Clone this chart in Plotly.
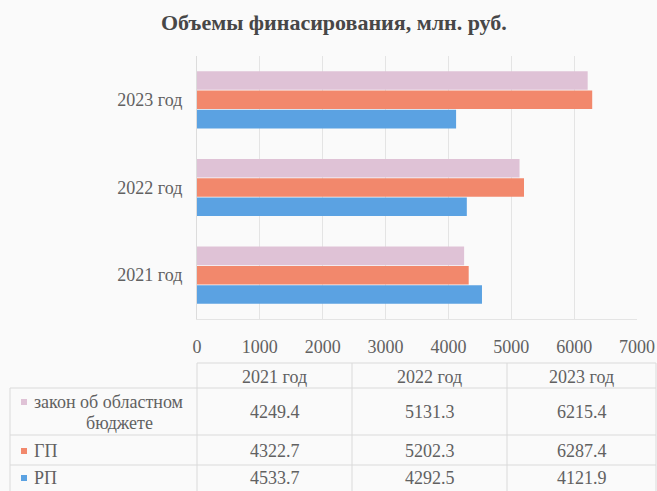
import plotly.graph_objects as go

W, H = 657, 491

categories = ["2021 год", "2022 год", "2023 год"]
series_names = ["закон об областном бюджете", "ГП", "РП"]
zakon = [4249.4, 5131.3, 6215.4]
gp = [4322.7, 5202.3, 6287.4]
rp = [4533.7, 4292.5, 4121.9]
x_ticks = [0, 1000, 2000, 3000, 4000, 5000, 6000, 7000]

colors = {"закон": "#dfc2d6", "ГП": "#f2886c", "РП": "#5ba2e2"}
FONT = "Liberation Serif, Times New Roman, serif"
TXT = "#616161"
FS = 18

def px(x):
    return x / W

def py(y):
    return 1 - y / H

fig = go.Figure()
# first trace drawn at bottom of each group
fig.add_trace(go.Bar(y=categories, x=rp, orientation="h", name="РП",
                     marker=dict(color=colors["РП"], line=dict(width=0))))
fig.add_trace(go.Bar(y=categories, x=gp, orientation="h", name="ГП",
                     marker=dict(color=colors["ГП"], line=dict(width=0))))
fig.add_trace(go.Bar(y=categories, x=zakon, orientation="h", name="закон",
                     marker=dict(color=colors["закон"], line=dict(width=0))))

shapes = []
annotations = []
line_col = "#dadada"

# table grid
def hline(y, x0, x1):
    shapes.append(dict(type="line", xref="paper", yref="paper", x0=px(x0), x1=px(x1),
                       y0=py(y), y1=py(y), line=dict(color=line_col, width=1)))

def vline(x, y0, y1):
    shapes.append(dict(type="line", xref="paper", yref="paper", x0=px(x), x1=px(x),
                       y0=py(y0), y1=py(y1), line=dict(color=line_col, width=1)))

col_edges = [197, 352, 507, 656]
hline(363, 197, 656)
for y in [388, 435, 465]:
    hline(y, 10, 656)
vline(10, 388, 491)
for x in col_edges:
    vline(x, 363, 491)

def text(x, y, s, size=FS, color=TXT, xanchor="center", bold=False):
    if bold:
        s = "<b>" + s + "</b>"
    annotations.append(dict(x=px(x), y=py(y), xref="paper", yref="paper", text=s,
                            showarrow=False, xanchor=xanchor, yanchor="middle",
                            font=dict(family=FONT, size=size, color=color)))

# header
for i, c in enumerate(categories):
    text((col_edges[i] + col_edges[i + 1]) / 2, 377, c)

row_centers = [412, 451, 478]
rows = [zakon, gp, rp]
for r, vals in enumerate(rows):
    for i, v in enumerate(vals):
        text((col_edges[i] + col_edges[i + 1]) / 2, row_centers[r], f"{v:.1f}")

# row labels with legend keys
key_cols = [colors["закон"], colors["ГП"], colors["РП"]]
key_y = [402, 451, 478]
for k, (c, y) in enumerate(zip(key_cols, key_y)):
    shapes.append(dict(type="rect", xref="paper", yref="paper",
                       x0=px(21), x1=px(27), y0=py(y + 3), y1=py(y - 3),
                       fillcolor=c, line=dict(width=0)))
text(32, 402, "закон об областном", xanchor="left")
text(119, 423, "бюджете")
text(32, 451, series_names[1], xanchor="left")
text(32, 478, series_names[2], xanchor="left")

# title
text(334, 22, "Объемы финасирования, млн. руб.", size=22, color="#474747", bold=True)

fig.update_layout(
    width=W, height=H,
    margin=dict(l=0, r=0, t=0, b=0),
    paper_bgcolor="#fafafa",
    plot_bgcolor="#fafafa",
    barmode="group",
    bargap=0.34,
    bargroupgap=0.04,
    showlegend=False,
    shapes=shapes,
    annotations=annotations,
    xaxis=dict(domain=[px(197), px(637)], range=[0, 7000], tickvals=x_ticks,
               showgrid=True, gridcolor="#e4e4e4", gridwidth=1, zeroline=False,
               showline=True, linecolor="#e4e4e4", ticks="", ticklabelstandoff=11,
               automargin=False,
               tickfont=dict(family=FONT, size=FS, color=TXT)),
    yaxis=dict(domain=[py(319), py(56)], showgrid=False, zeroline=False,
               showline=True, linecolor="#dcdcdc", ticks="", ticklabelstandoff=10,
               automargin=False,
               tickfont=dict(family=FONT, size=FS, color=TXT)),
)

fig.write_html("out.html", config={"displayModeBar": False},
               post_script="document.body.style.margin='0';document.body.style.padding='0';")
